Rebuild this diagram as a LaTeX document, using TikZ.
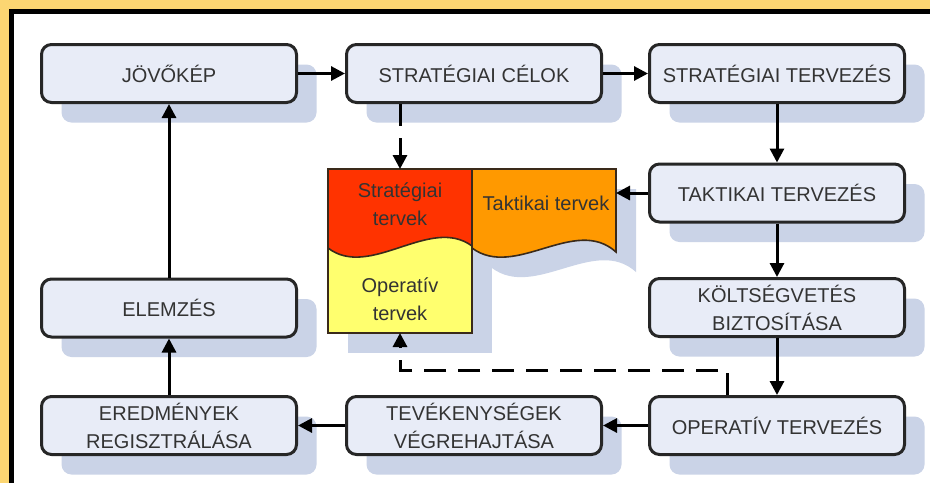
\documentclass[tikz,border=0pt]{standalone}
\usepackage{fontspec}
\setmainfont{Liberation Sans}
\usetikzlibrary{arrows.meta,shadows}
\definecolor{bandc}{HTML}{FCD672}
\definecolor{boxfill}{HTML}{E8ECF7}
\definecolor{shadowc}{HTML}{CAD3E7}
\definecolor{boxline}{HTML}{262626}
\definecolor{txtc}{HTML}{333333}
\definecolor{redc}{HTML}{FF3300}
\definecolor{orangec}{HTML}{FF9900}
\definecolor{yellowc}{HTML}{FFFF6E}
\definecolor{flagline}{HTML}{3A2A1A}
\tikzset{
  procbox/.style={draw=boxline, line width=3pt, fill=boxfill, rounded corners=10pt,
    minimum width=255pt, minimum height=58pt, inner sep=0pt, align=center,
    text=txtc, font=\fontsize{20}{28}\selectfont,
    drop shadow={shadow xshift=20pt, shadow yshift=-20pt, fill=shadowc, opacity=1, draw=none}},
  flagtxt/.style={align=center, text=txtc, font=\fontsize{20}{28}\selectfont, inner sep=0pt},
  flagshape/.style={draw=flagline, line width=1.6pt},
  arr/.style={line width=3pt, draw=black, -{Triangle[length=14pt,width=14pt]}},
  darr/.style={arr, dash pattern=on 22pt off 12pt}
}
\begin{document}
\begin{tikzpicture}[x=1pt,y=-1pt]
\useasboundingbox (0,0) rectangle (930,483);
% frame
\fill[bandc] (0,0) rectangle (930,483);
\fill[black] (9,9) rectangle (930,483);
\fill[white] (14,14) rectangle (930,483);

% flag shadows
\fill[shadowc] (348,189) rectangle (492,353);
\fill[shadowc] (492,189) -- (636,189) -- (636,272) .. controls (595,235) and (535,300) .. (492,268) -- cycle;

% flags
\fill[yellowc] (328,169) rectangle (472,333);
\draw[flagshape] (328,169) rectangle (472,333);
\draw[flagshape, fill=redc] (328,169) -- (472,169) -- (472,246) .. controls (430,215) and (370,280) .. (328,248) -- cycle;
\draw[flagshape, fill=orangec] (472,169) -- (616,169) -- (616,252) .. controls (575,215) and (515,280) .. (472,248) -- cycle;
\node[flagtxt] (strtxt) at (400,204) {Stratégiai\\tervek};
\node[flagtxt] (optxt) at (400,299) {Operatív\\tervek};
\node[flagtxt] (taktxt) at (546,203) {Taktikai tervek};
\coordinate (redtop) at (400,169);
\coordinate (yelbot) at (400,333);
\coordinate (orright) at (616,193);
\coordinate (dturn) at (727,370);

% boxes
\node[procbox] (jovo) at (169,73.5) {JÖVŐKÉP};
\node[procbox] (celok) at (474,73.5) {STRATÉGIAI CÉLOK};
\node[procbox] (stratterv) at (777,73.5) {STRATÉGIAI TERVEZÉS};
\node[procbox] (takterv) at (777,193) {TAKTIKAI TERVEZÉS};
\node[procbox] (kolts) at (777,307.5) {KÖLTSÉGVETÉS\\BIZTOSÍTÁSA};
\node[procbox] (operterv) at (777,425.5) {OPERATÍV TERVEZÉS};
\node[procbox] (tevek) at (474,425.5) {TEVÉKENYSÉGEK\\VÉGREHAJTÁSA};
\node[procbox] (eredm) at (169,425.5) {EREDMÉNYEK\\REGISZTRÁLÁSA};
\node[procbox] (elemz) at (169,308) {ELEMZÉS};

% connectors
\draw[arr] (jovo.east) -- (celok.west);
\draw[arr] (celok.east) -- (stratterv.west);
\draw[arr] (stratterv.south) -- (takterv.north);
\draw[arr] (takterv.south) -- (kolts.north);
\draw[arr] (kolts.south) -- (operterv.north);
\draw[arr] (operterv.west) -- (tevek.east);
\draw[arr] (tevek.west) -- (eredm.east);
\draw[arr] (eredm.north) -- (elemz.south);
\draw[arr] (elemz.north) -- (jovo.south);
\draw[arr] (takterv.west) -- (orright);
\draw[darr] (celok.south -| redtop) -- (redtop);
\draw[darr] (operterv.north -| dturn) -- (dturn) -- (dturn -| yelbot) -- (yelbot);
\end{tikzpicture}
\end{document}
